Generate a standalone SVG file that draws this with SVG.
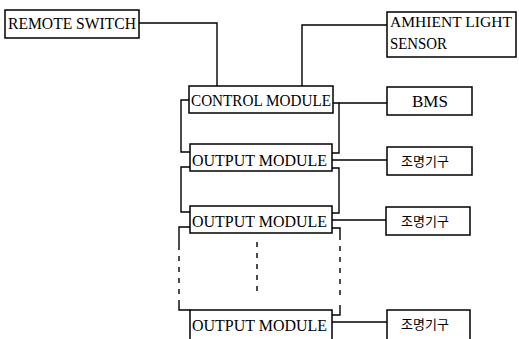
<svg xmlns="http://www.w3.org/2000/svg" width="519" height="339" viewBox="0 0 519 339">
<style>
.box{fill:#fff;stroke:#000;stroke-width:1.5}
.t{font-family:"Liberation Serif","Times New Roman",serif;font-size:17px;fill:#000}
.k{font-family:"Noto Sans CJK KR",sans-serif;font-size:13px;fill:#000}
.c{fill:none;stroke:#000;stroke-width:1.4}
.d{fill:none;stroke:#000;stroke-width:1.4;stroke-dasharray:5,6}
</style>
<rect width="519" height="339" fill="#fff"/>
<g id="connectors">
<path class="c" d="M139,23 H217 V86"/>
<path class="c" d="M387,25 H302 V86"/>
<path class="c" d="M189,100 H181 V152 H190"/>
<path class="c" d="M190,167 H181 V212 H190"/>
<path class="c" d="M190,227 H179 V250"/>
<path class="d" d="M179,256 V296"/>
<path class="c" d="M179,300 V310 H190"/>
<path class="c" d="M333,103 H339 V153 H332"/>
<path class="c" d="M339,103 H387"/>
<path class="c" d="M332,160 H387"/>
<path class="c" d="M332,168 H339 V213 H332"/>
<path class="c" d="M332,220 H386"/>
<path class="c" d="M332,228 H340 V240"/>
<path class="d" d="M340,246 V300"/>
<path class="c" d="M340,305 V315 H332"/>
<path class="c" d="M332,322 H387"/>
<path class="d" d="M257,242 V296"/>
</g>
<g id="remote-switch">
<rect class="box" x="5" y="10" width="134" height="28"/>
<text class="t" x="8" y="29" textLength="128" lengthAdjust="spacingAndGlyphs">REMOTE SWITCH</text>
</g>
<g id="ambient-light-sensor">
<rect class="box" x="387" y="12" width="129" height="45"/>
<text class="t" x="390" y="27" style="font-size:14px" textLength="122" lengthAdjust="spacingAndGlyphs">AMHIENT LIGHT</text>
<text class="t" x="390" y="49" textLength="57" lengthAdjust="spacingAndGlyphs">SENSOR</text>
</g>
<g id="control-module">
<rect class="box" x="189" y="86" width="144" height="27"/>
<text class="t" x="191" y="106" textLength="140" lengthAdjust="spacingAndGlyphs">CONTROL MODULE</text>
</g>
<g id="bms">
<rect class="box" x="387" y="87" width="85" height="28"/>
<text class="t" x="430" y="107" text-anchor="middle">BMS</text>
</g>
<g id="output-module-1">
<rect class="box" x="190" y="144" width="142" height="27"/>
<text class="t" x="192" y="166" textLength="135" lengthAdjust="spacingAndGlyphs">OUTPUT MODULE</text>
</g>
<g id="lighting-1">
<rect class="box" x="387" y="147" width="85" height="28"/>
<text class="k" x="425" y="166" text-anchor="middle">조명기구</text>
</g>
<g id="output-module-2">
<rect class="box" x="190" y="206" width="142" height="27"/>
<text class="t" x="192" y="227" textLength="135" lengthAdjust="spacingAndGlyphs">OUTPUT MODULE</text>
</g>
<g id="lighting-2">
<rect class="box" x="386" y="207" width="84" height="28"/>
<text class="k" x="425" y="226" text-anchor="middle">조명기구</text>
</g>
<g id="output-module-3">
<rect class="box" x="190" y="310" width="142" height="30"/>
<text class="t" x="192" y="331" textLength="135" lengthAdjust="spacingAndGlyphs">OUTPUT MODULE</text>
</g>
<g id="lighting-3">
<rect class="box" x="387" y="310" width="83" height="30"/>
<text class="k" x="425" y="329" text-anchor="middle">조명기구</text>
</g>
</svg>
